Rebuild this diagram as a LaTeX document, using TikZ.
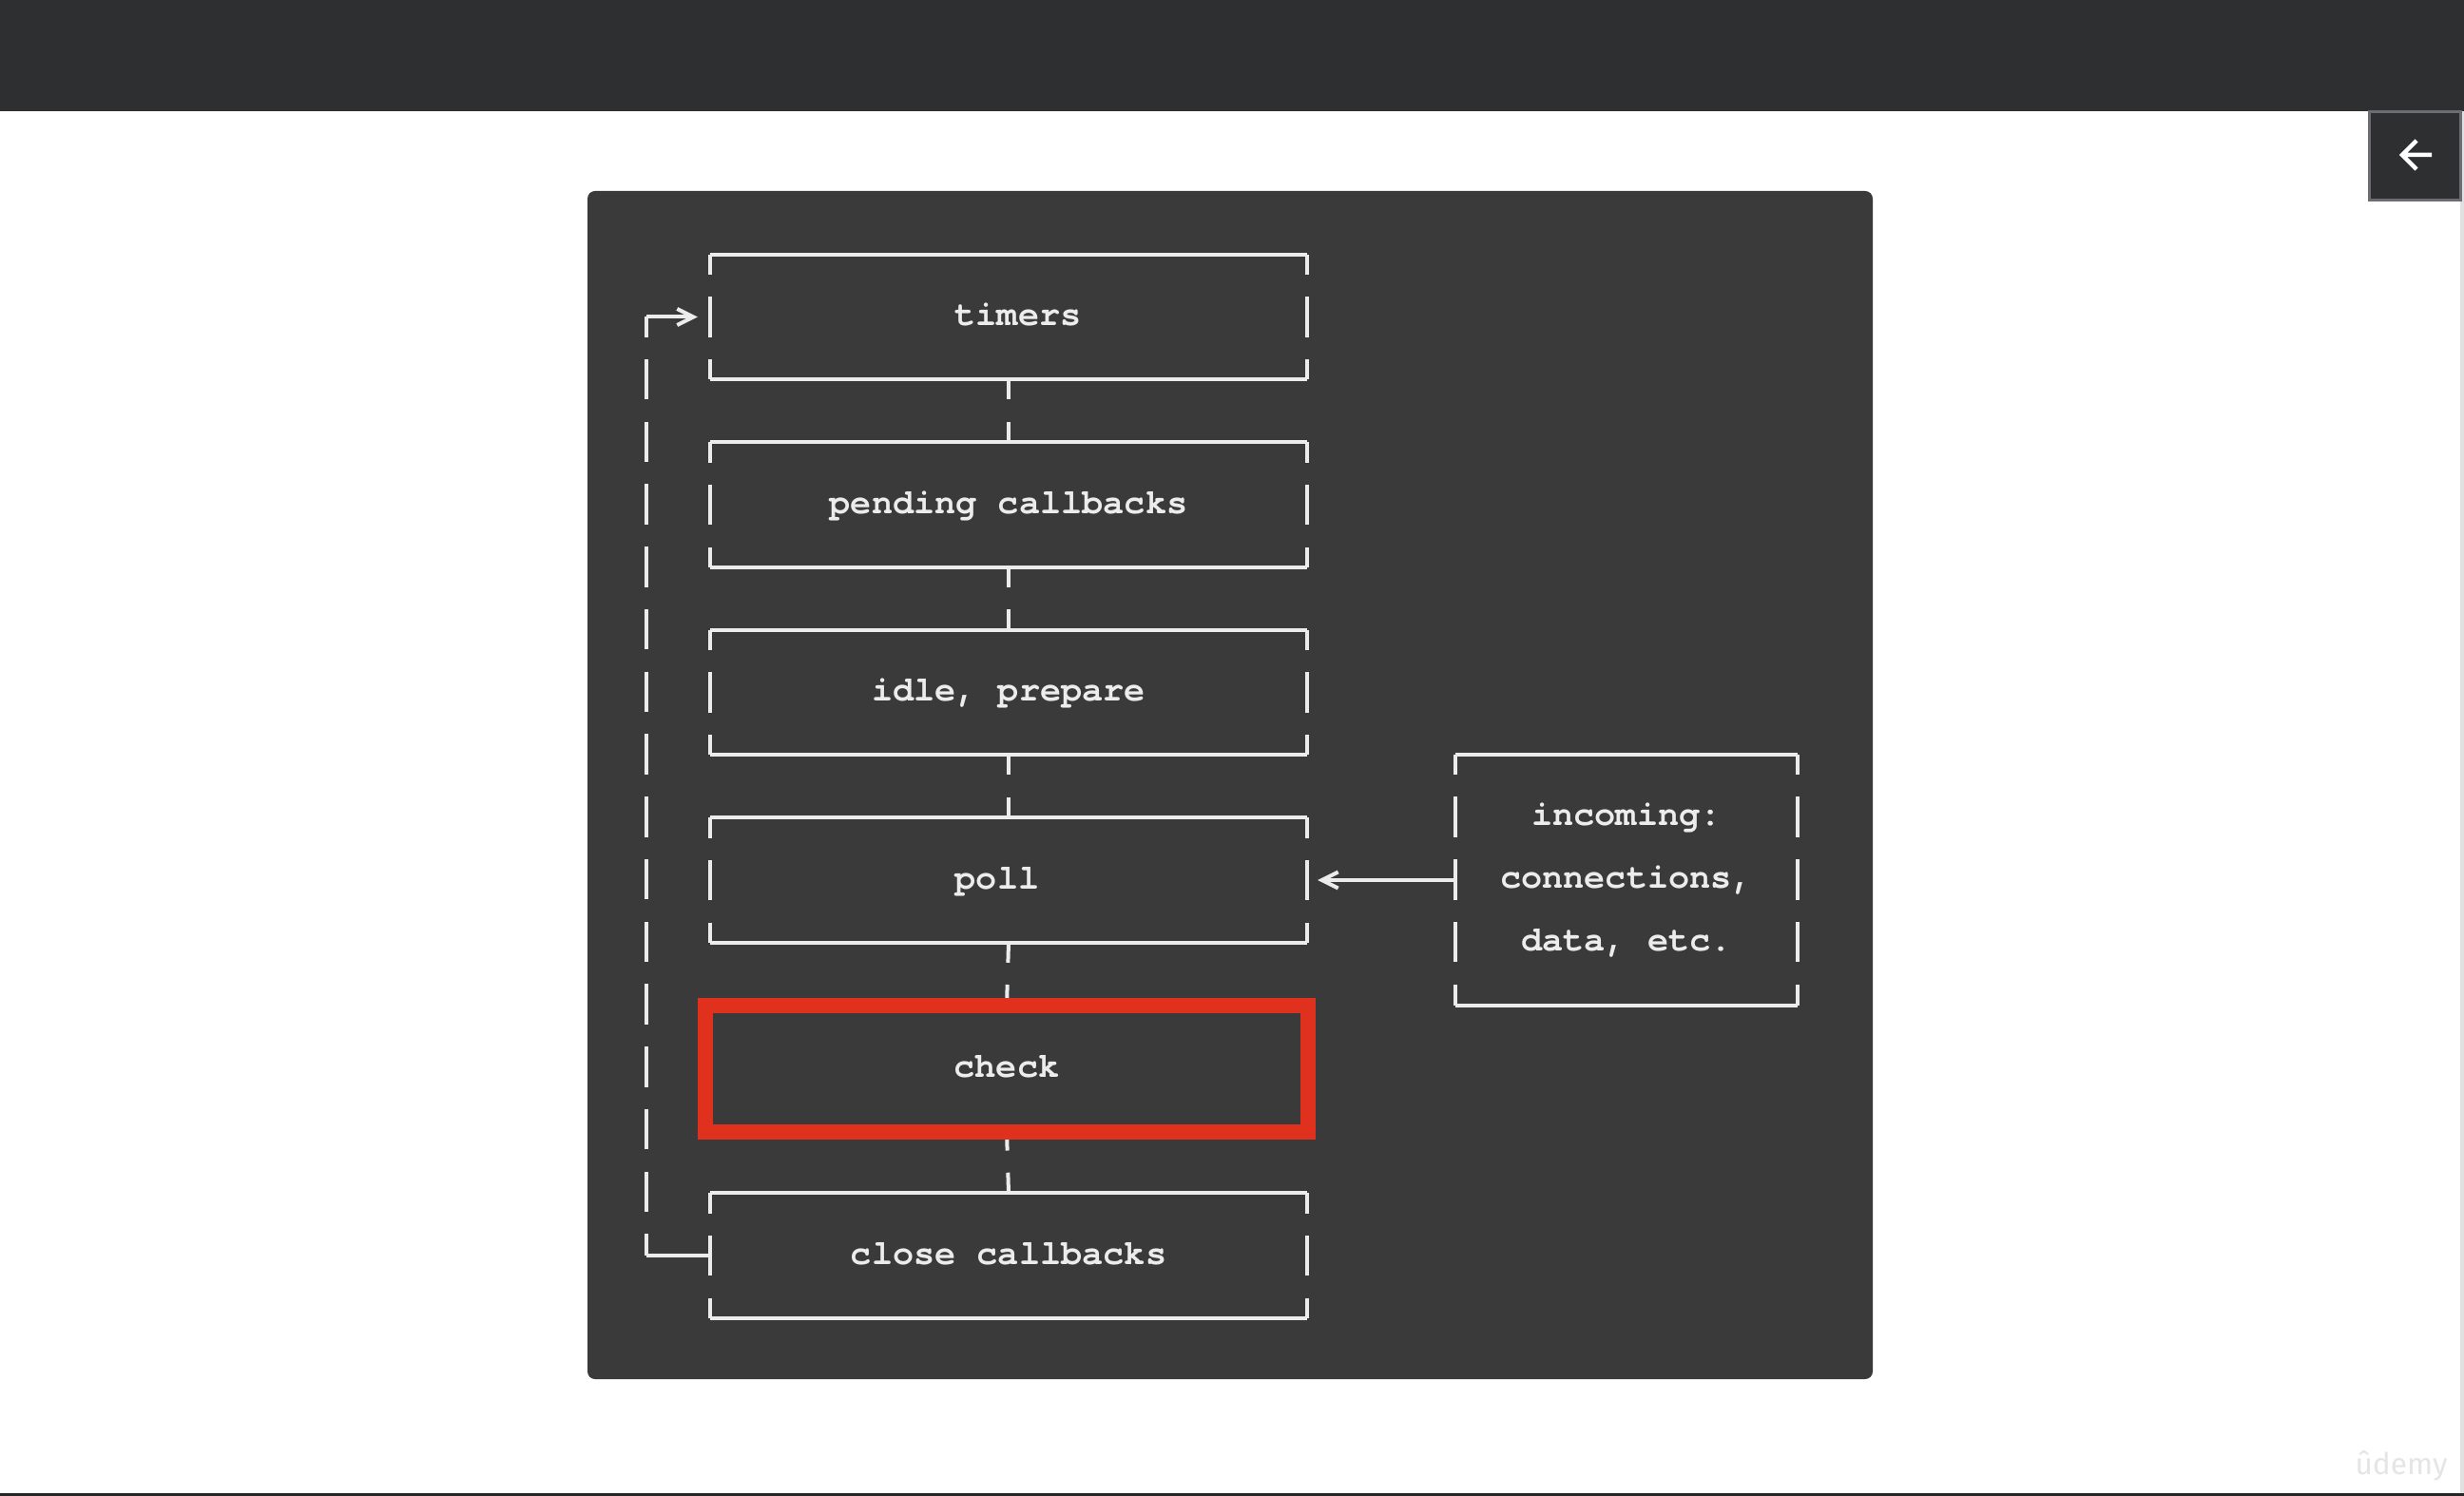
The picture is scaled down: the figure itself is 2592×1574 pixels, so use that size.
\documentclass[tikz,border=0pt]{standalone}
\usepackage{fontspec}
\newfontfamily\cursor{TeX Gyre Cursor}
\newfontfamily\logofont{Fira Sans}
\usetikzlibrary{arrows.meta}
\definecolor{barclr}{HTML}{2E2F31}
\definecolor{btnclr}{HTML}{6C6D70}
\definecolor{panelclr}{HTML}{3A3A3A}
\definecolor{lineclr}{HTML}{ECECEC}
\definecolor{redclr}{HTML}{E0301E}

\begin{document}
\begin{tikzpicture}[x=0.01cm, y=-0.01cm,
  rim/.style={draw=lineclr, line width=0.04cm},
  sidedash/.style={rim, dash pattern=on 0.425cm off 0.232cm, dash phase=0.2125cm},
  chevron/.style={-{Straight Barb[length=0.17cm, width=0.17cm]}},
  asciibox/.style={minimum width=6.28cm, minimum height=1.31cm, inner sep=0pt, outer sep=0pt,
    text=lineclr, font=\cursor\bfseries\fontsize{10.5}{13}\selectfont, text height=1.6ex, text depth=0.4ex,
    append after command={(\tikzlastnode.north west) edge[rim] (\tikzlastnode.north east)
      (\tikzlastnode.south west) edge[rim] (\tikzlastnode.south east)
      (\tikzlastnode.north west) edge[sidedash] (\tikzlastnode.south west)
      (\tikzlastnode.north east) edge[sidedash] (\tikzlastnode.south east)}},
  redbox/.style={draw=redclr, line width=0.16cm, minimum width=6.335cm, minimum height=1.33cm,
    inner sep=0pt, outer sep=0pt, text=lineclr, font=\cursor\bfseries\fontsize{10.5}{13}\selectfont,
    text height=1.6ex, text depth=0.4ex}]
\useasboundingbox (0,0) rectangle (2592,1574);
\fill[white] (0,0) rectangle (2592,1574);
\fill[barclr] (0,0) rectangle (2592,117);
\fill[black!12] (2588,117) rectangle (2592,1571);
\fill[black!85] (0,1571) rectangle (2592,1574);
\node[draw=btnclr, fill=barclr, line width=0.03cm, minimum width=0.96cm, minimum height=0.93cm, inner sep=0pt] (back) at (2540.5,164) {};
\draw[white, line width=0.045cm] (2558,163) -- (2527,163) (2542,148) -- (2527,163) -- (2542,178);
\node[text=black!10, font=\logofont\fontsize{9}{9}\selectfont] (logo) at (2526,1542) {ûdemy};

\fill[panelclr, rounded corners=0.08cm] (618,201) rectangle (1970,1451);

\node[asciibox] (tm) at (1061,333.5) {\hspace*{0.2cm}timers};
\node[asciibox] (pc) at (1061,531) {pending callbacks};
\node[asciibox] (ip) at (1061,728.5) {idle, prepare};
\node[asciibox] (pl) at (1061,926) {poll\hspace*{0.24cm}};
\node[redbox] (ck) at (1059,1124.5) {check};
\node[asciibox] (cl) at (1061,1321) {close callbacks};
\node[asciibox, minimum width=3.59cm, minimum height=2.64cm, align=center, text height=, text depth=,
  font=\cursor\bfseries\fontsize{10.5}{18.7}\selectfont] (inc) at (1711,926) {incoming:\\connections,\\data, etc.};

\draw[sidedash] (tm.south) -- (pc.north);
\draw[sidedash] (pc.south) -- (ip.north);
\draw[sidedash] (ip.south) -- (pl.north);
\draw[sidedash, shorten >=0.08cm] (pl.south) -- (ck.north);
\draw[sidedash, shorten <=0.08cm, dash phase=0.31cm] (ck.south) -- (cl.north);

\coordinate (lt) at (680,333.5);
\coordinate (lb) at (680,1321);
\draw[rim] (cl.west) -- (lb);
\draw[sidedash] (lt) -- (lb);
\draw[rim, chevron, shorten >=0.13cm] (lt) -- (tm.west);
\draw[rim, chevron, shorten >=0.11cm] (inc.west) -- (pl.east);
\end{tikzpicture}
\end{document}
